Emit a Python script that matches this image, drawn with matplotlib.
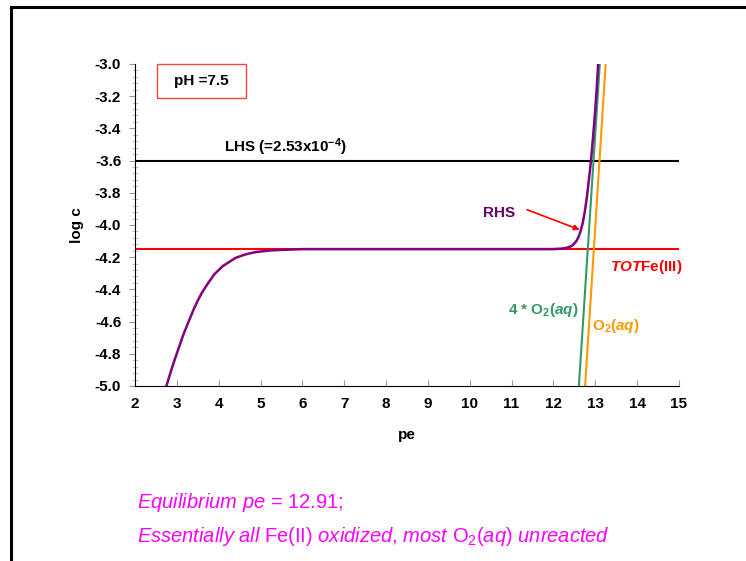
import matplotlib
matplotlib.use("Agg")
import matplotlib.pyplot as plt
from matplotlib.lines import Line2D
from matplotlib.patches import Rectangle
from matplotlib.ticker import MultipleLocator, FormatStrFormatter

plt.rcParams["font.family"] = ["Liberation Sans", "DejaVu Sans"]
plt.rcParams["axes.unicode_minus"] = False
plt.rcParams["mathtext.fontset"] = "custom"
plt.rcParams["mathtext.rm"] = "Liberation Sans"
plt.rcParams["mathtext.it"] = "Liberation Sans:italic"
plt.rcParams["mathtext.bf"] = "Liberation Sans:bold"
plt.rcParams["mathtext.bfit"] = "Liberation Sans:bold:italic"

# data
pe_rhs = [2.75, 2.85, 2.95, 3.05, 3.15, 3.25, 3.4, 3.5, 3.6, 3.75, 3.9, 4.0, 4.1,
          4.25, 4.4, 4.6, 4.75, 4.9, 5.0, 5.25, 5.5, 6.0,
          12.0, 12.2, 12.3, 12.4, 12.45, 12.5, 12.55, 12.6, 12.65, 12.7, 12.75, 12.8,
          12.85, 12.9, 12.95, 13.0, 13.04, 13.07]
logc_rhs = [-5.0, -4.915, -4.835, -4.76, -4.685, -4.62, -4.525, -4.47, -4.42, -4.36,
            -4.305, -4.28, -4.255, -4.23, -4.205, -4.186, -4.176, -4.168, -4.165,
            -4.158, -4.155, -4.15,
            -4.15, -4.147, -4.143, -4.135, -4.128, -4.115, -4.10, -4.075, -4.04, -3.99,
            -3.92, -3.83, -3.72, -3.60, -3.45, -3.29, -3.14, -3.0]
pe_o2x4 = [12.61, 13.11]
logc_o2x4 = [-5.0, -3.0]
pe_o2 = [12.76, 13.25]
logc_o2 = [-5.0, -3.0]
pe_span = [2, 15]
lhs = [-3.6, -3.6]
tot_fe3 = [-4.15, -4.15]

fig = plt.figure(figsize=(7.46, 5.61), dpi=100)
ax = fig.add_axes([0.181, 0.312, 0.729, 0.574])

ax.plot(pe_span, lhs, color="black", lw=1.5)
ax.plot(pe_span, tot_fe3, color="#FF0000", lw=1.5)
ax.plot(pe_o2, logc_o2, color="#FF9900", lw=1.5)
ax.plot(pe_o2x4, logc_o2x4, color="#339966", lw=1.5)
ax.plot(pe_rhs, logc_rhs, color="#800080", lw=1.8)

ax.set_xlim(2, 15)
ax.set_ylim(-5.0, -3.0)
ax.xaxis.set_major_locator(MultipleLocator(1))
ax.yaxis.set_major_locator(MultipleLocator(0.2))
ax.yaxis.set_minor_locator(MultipleLocator(0.04))
ax.yaxis.set_major_formatter(FormatStrFormatter("%.1f"))
for s in ["top", "right"]:
    ax.spines[s].set_visible(False)
ax.tick_params(axis="x", direction="in", length=4, color="#999999", labelsize=11, pad=8)
ax.tick_params(axis="y", which="major", direction="out", length=4, color="#999999", labelsize=11, pad=6)
ax.tick_params(axis="y", which="minor", direction="inout", length=4, color="#bbbbbb")
for lab in ax.get_xticklabels() + ax.get_yticklabels():
    lab.set_fontweight("bold")

ax.set_xlabel("pe", fontsize=11, fontweight="bold", labelpad=12)
ax.set_ylabel("log c", fontsize=11, fontweight="bold", labelpad=8)

# pH box
ax.add_patch(Rectangle((0.04, 0.894), 0.164, 0.106, transform=ax.transAxes,
                       fill=False, edgecolor="#FF4444", lw=1, clip_on=False))
ax.text(0.122, 0.947, "pH =7.5", transform=ax.transAxes, ha="center", va="center",
        fontsize=11, fontweight="bold")

ax.text(4.13, -3.52, r"LHS (=2.53x10$^{\mathbf{-4}}$)", fontsize=11, fontweight="bold",
        va="center")
ax.text(10.32, -3.925, "RHS", color="#660066", fontsize=11, fontweight="bold", va="center")
ax.annotate("", xy=(12.63, -4.03), xytext=(11.37, -3.905),
            arrowprops=dict(arrowstyle="-|>", color="#FF0000", lw=1.2, mutation_scale=8,
                            shrinkA=0, shrinkB=0))
ax.text(13.35, -4.26, r"$\mathbfit{TOT}$Fe(III)", color="#FF0000", fontsize=11,
        fontweight="bold", va="center", clip_on=False)
ax.text(12.59, -4.53, r"4 * O$_\mathbf{2}$($\mathbfit{aq}$)", color="#339966", fontsize=11,
        fontweight="bold", va="center", ha="right")
ax.text(12.92, -4.63, r"O$_\mathbf{2}$($\mathbfit{aq}$)", color="#FF9900", fontsize=11,
        fontweight="bold", va="center")

fig.text(137 / 746, 1 - 503 / 561, r"$\it{Equilibrium\ pe}$ = 12.91;", color="#FF00FF",
         fontsize=14.5, va="center")
fig.text(137 / 746, 1 - 537 / 561,
         r"$\it{Essentially\ all}$ Fe(II) $\it{oxidized}$$\it{,}$ $\it{most}$ O$_2$($\it{aq}$) $\it{unreacted}$",
         color="#FF00FF", fontsize=14.5, va="center")

# slide frame
fig.add_artist(Line2D([10.5 / 746, 10.5 / 746], [0, 1 - 6.5 / 561], color="black", lw=2.2,
                      transform=fig.transFigure))
fig.add_artist(Line2D([10.5 / 746, 1], [1 - 6.5 / 561, 1 - 6.5 / 561], color="black", lw=2.2,
                      transform=fig.transFigure))

fig.savefig("out.png", dpi=100)
